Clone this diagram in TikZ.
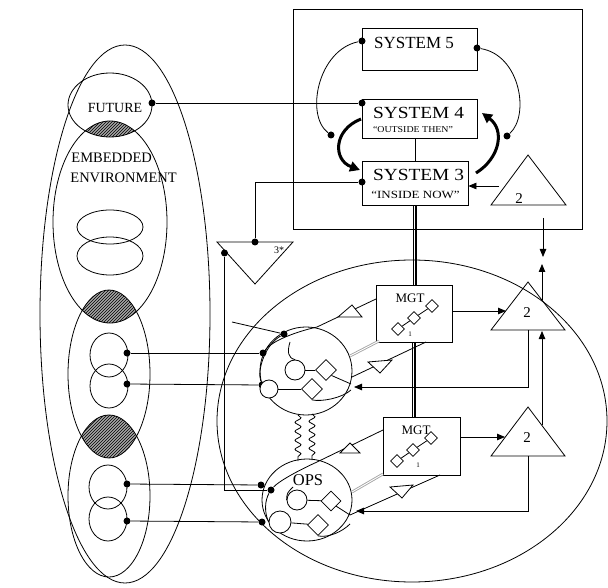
\documentclass[tikz,border=0pt]{standalone}
\usepackage{fontspec}
\setmainfont{Liberation Serif}
\usetikzlibrary{arrows.meta,patterns,decorations.pathmorphing,shapes.geometric}
\begin{document}
\begin{tikzpicture}[x=1pt,y=-1pt, line width=0.8pt,
  dot/.style={circle,fill=black,inner sep=0pt,minimum size=7pt},
  box/.style={draw,rectangle,fill=white,inner sep=0pt},
  diam/.style={draw,diamond,fill=white,inner sep=0pt,minimum size=#1},
  sc/.style={draw,circle,fill=white,inner sep=0pt,minimum size=#1},
  lbl/.style={inner sep=0pt},
  arr/.style={-{Triangle[length=8pt,width=6.5pt]}},
  thickarr/.style={line width=3pt,-{Triangle[length=10pt,width=10pt]}},
  dbl/.style={draw=gray!70, double=white, double distance=0.9pt, line width=0.9pt},
  opentri/.style={draw,fill=white},
  hatch/.style={pattern=north east lines, pattern color=black},
  hatchbg/.style={fill=black!35},
  wavy/.style={decorate, decoration={snake,segment length=9pt,amplitude=3pt}}
]
\useasboundingbox (0,0) rectangle (608,588);

% ---------------- environment (left) ----------------
\draw (125,314) ellipse [x radius=85pt, y radius=269pt];
\begin{scope}
  \clip (110,105) ellipse [x radius=42pt, y radius=32pt];
  \fill[hatchbg] (110,222) ellipse [x radius=57pt, y radius=101pt];
  \fill[hatch] (110,222) ellipse [x radius=57pt, y radius=101pt];
\end{scope}
\begin{scope}
  \clip (110,222) ellipse [x radius=57pt, y radius=101pt];
  \fill[hatchbg] (109,374) ellipse [x radius=41pt, y radius=84pt];
  \fill[hatch] (109,374) ellipse [x radius=41pt, y radius=84pt];
\end{scope}
\begin{scope}
  \clip (109,374) ellipse [x radius=41pt, y radius=84pt];
  \fill[hatchbg] (109,496) ellipse [x radius=41pt, y radius=81pt];
  \fill[hatch] (109,496) ellipse [x radius=41pt, y radius=81pt];
\end{scope}
\draw (110,105) ellipse [x radius=42pt, y radius=32pt];
\draw (110,222) ellipse [x radius=57pt, y radius=101pt];
\draw (109,374) ellipse [x radius=41pt, y radius=84pt];
\draw (109,496) ellipse [x radius=41pt, y radius=81pt];
\draw (110,227) ellipse [x radius=33pt, y radius=17pt];
\draw (110,256) ellipse [x radius=33pt, y radius=19pt];
\draw (109,355) ellipse [x radius=19pt, y radius=22pt];
\draw (109,386) ellipse [x radius=19pt, y radius=22pt];
\draw (108,487) ellipse [x radius=19pt, y radius=22pt];
\draw (108,519) ellipse [x radius=19pt, y radius=22pt];

\node[lbl,font=\fontsize{14}{14}\selectfont] (futt) at (115,108) {FUTURE};
\node[lbl,anchor=west,font=\fontsize{14.5}{14.5}\selectfont] (emb) at (71,158) {EMBEDDED};
\node[lbl,anchor=west,font=\fontsize{14.5}{14.5}\selectfont] (envt) at (70,178) {ENVIRONMENT};

% ---------------- big operations ellipse ----------------
\draw (412,421) ellipse [x radius=195pt, y radius=161pt];

% ---------------- metasystem ----------------
\draw (293,9) rectangle (582,229);
\node[box, minimum width=115pt, minimum height=42pt] (s5) at (419.5,49) {};
\node[box, minimum width=115pt, minimum height=39pt] (s4) at (419.5,118.5) {};
\node[box, minimum width=106pt, minimum height=44pt] (s3) at (415,183) {};
\node[lbl,font=\fontsize{17}{17}\selectfont] (s5t) at (414,43) {SYSTEM 5};
\node[lbl,font=\fontsize{17}{17}\selectfont] (s4t) at (418.5,112.5) {\addfontfeatures{FakeStretch=1.14}SYSTEM 4};
\node[lbl,font=\fontsize{9}{9}\selectfont] (s4s) at (413,130) {\addfontfeatures{FakeStretch=1.1}``OUTSIDE THEN''};
\node[lbl,font=\fontsize{17}{17}\selectfont] (s3t) at (418.5,174.5) {\addfontfeatures{FakeStretch=1.14}SYSTEM 3};
\node[lbl,font=\fontsize{11}{11}\selectfont] (s3s) at (415.5,195) {\addfontfeatures{FakeStretch=1.18}``INSIDE NOW''};
\draw (s3.north |- s4.south) -- (s3.north);

\node[dot] (s5l) at (362,41) {};
\node[dot] (s5r) at (477,48) {};
\node[dot] (cl) at (331,135) {};
\node[dot] (cr) at (507,136) {};
\draw (s5l) .. controls (318,50) and (305,115) .. (cl);
\draw (s5r) .. controls (520,55) and (530,115) .. (cr);
\draw[thickarr] (361,119) .. controls (333,130) and (333,160) .. (360,170);
\draw[thickarr] (476,173) .. controls (500,158) and (505,130) .. (482,113);

% top triangle 2
\draw (528,155) -- (566,205) -- (491,205) -- cycle;
\node[lbl,font=\fontsize{15}{15}\selectfont] (t2t) at (519,199) {2};
\coordinate (t2l) at (499,186);
\draw[arr] (t2l) -- (t2l -| s3.east);

% FUTURE -> S4, S3 -> 3*
\node[dot] (fut) at (152,103) {};
\node[dot] (s4d) at (362,103) {};
\node[dot] (s3d) at (362,182) {};
\draw (fut) -- (s4d);

% 3* triangle
\draw (217,242) -- (293,242) -- (255,284) -- cycle;
\node[lbl,font=\fontsize{10}{10}\selectfont] (t3t) at (279,250) {3*};
\node[dot] (t3a) at (255,242) {};
\node[dot] (t3b) at (224.5,253) {};
\draw (s3d) -| (t3a);

% ---------------- management boxes ----------------
\node[box, minimum width=76pt, minimum height=57pt] (m1) at (414,313.5) {};
\node[box, minimum width=77pt, minimum height=58pt] (m2) at (421.5,446) {};
\foreach \d in {-1.7,0,1.7}{
  \draw[line width=0.6pt] ([xshift=\d pt]s3.south) -- ([xshift=\d pt]s3.south |- m1.north);
  \draw[line width=0.6pt] ([xshift=\d pt]m1.south) -- ([xshift=\d pt]m1.south |- m2.north);
}
\node[lbl,font=\fontsize{13}{13}\selectfont] (m1t) at (410,298) {MGT};
\node[lbl,font=\fontsize{13}{13}\selectfont] (m2t) at (416,430) {MGT};
\node[diam=13pt] (m1a) at (398,329) {};
\node[diam=13pt] (m1b) at (414,318) {};
\node[diam=13pt] (m1c) at (432,306) {};
\draw (m1a) -- (m1b) -- (m1c);
\node[lbl,font=\fontsize{7}{7}\selectfont] (m1n) at (410,334) {1};
\node[diam=13pt] (m2a) at (397,461) {};
\node[diam=13pt] (m2b) at (413,450) {};
\node[diam=13pt] (m2c) at (431,438) {};
\draw (m2a) -- (m2b) -- (m2c);
\node[lbl,font=\fontsize{7}{7}\selectfont] (m2n) at (418,465) {1};

% ---------------- triangles 2 (right) ----------------
\draw (528,282) -- (565,330) -- (491,330) -- cycle;
\node[lbl,font=\fontsize{15}{15}\selectfont] (tu) at (527,313) {2};
\draw (528,407) -- (565,456) -- (491,456) -- cycle;
\node[lbl,font=\fontsize{15}{15}\selectfont] (tl) at (527,438) {2};
\coordinate (m1r) at (452,311);
\coordinate (tul) at (506,311);
\coordinate (m2r) at (460,437);
\coordinate (tll) at (505,437);
\draw[arr] (m1r) -- (tul);
\draw[arr] (m2r) -- (tll);
\coordinate (v0) at (543,218);
\coordinate (v1) at (543,257);
\coordinate (v2) at (542,300);
\coordinate (v3) at (542,264);
\coordinate (v4) at (542,425);
\coordinate (v5) at (542,331);
\draw[arr] (v0) -- (v1);
\draw[arr] (v2) -- (v3);
\draw[arr] (v4) -- (v5);
\coordinate (tub) at (528,330);
\coordinate (tlb) at (528,456);
\draw[arr] (tub) -- (528,387) -- (354,387);
\draw[arr] (tlb) -- (528,511) -- (356,511);

% ---------------- operational circles ----------------
\node[draw, ellipse, minimum width=92pt, minimum height=88pt, inner sep=0pt] (oc1) at (306,371) {};
\node[draw, ellipse, minimum width=90pt, minimum height=82pt, inner sep=0pt] (oc2) at (307,500) {};
\draw[wavy] (298,415) -- (298,461);
\draw[wavy] (312,414) -- (312,460);
\node[lbl,font=\fontsize{16.5}{16.5}\selectfont] (ops) at (308,480) {OPS};

% dots on circles
\node[dot] (o1a) at (284,334) {};
\node[dot] (o1b) at (263,353) {};
\node[dot] (o1c) at (262,385) {};
\node[dot] (o2a) at (261,485) {};
\node[dot] (o2b) at (271,490) {};
\node[dot] (o2c) at (262,522) {};
\node[dot] (g1a) at (127,353) {};
\node[dot] (g1b) at (127,384) {};
\node[dot] (g2a) at (127,484) {};
\node[dot] (g2b) at (127,521) {};
\draw (g1a) -- (o1b);
\draw (g1b) -- (o1c);
\draw (g2a) -- (o2a);
\draw (g2b) -- (o2c);
\draw (t3b) |- (o2b);
\coordinate (tan) at (232,322);
\draw (tan) -- (o1a);

% upper circle internals
\node[sc=20pt] (a1) at (295,370) {};
\node[diam=21pt] (a2) at (326,370) {};
\node[sc=18pt] (a3) at (269,389) {};
\node[diam=21pt] (a4) at (312,389) {};
\draw (a1) -- (a2);
\draw (a3) -- (a4);
\draw (a2.south east) -- (351,384);
\draw (290,342) .. controls (287,352) and (288,358) .. (a1.north);
\draw (a4.south) .. controls (322,402) and (342,398) .. (351,390);
\draw (o1a) .. controls (265,345) and (257,370) .. (o1c);

% lower circle internals
\node[sc=20pt] (b1) at (297,500) {};
\node[diam=20pt] (b2) at (331,501) {};
\node[sc=22pt] (b3) at (280,522) {};
\node[diam=21pt] (b4) at (318,525) {};
\draw (b1) -- (b2);
\draw (b3) -- (b4);
\draw (b2.south east) -- (350,515);
\draw (b4.south) .. controls (328,538) and (342,532) .. (350,524);
\draw (o2b) .. controls (265,500) and (264,512) .. (b3.west);
\draw (293,487) .. controls (287,493) .. (b1.west);

% management -> operations lines with filters
\coordinate (m1l) at (376,299);
\draw (o1b) .. controls (272,341) and (295,332) .. (317,327) -- (m1l);
\draw[opentri] (338,317) -- (352,305) -- (362,317) -- cycle;
\coordinate (m1s) at (426,342);
\draw (m1s) -- (352,377);
\draw[opentri] (368,362) -- (392,360) -- (380,373) -- cycle;
\draw[dbl] (379,341) -- (350,356);

\coordinate (m2l) at (383,430);
\draw (m2l) -- (317,462) .. controls (295,472) and (278,482) .. (o2b);
\draw[opentri] (340,453) -- (350,443) -- (360,453) -- cycle;
\coordinate (m2s) at (440,475);
\draw (m2s) -- (350,515);
\draw[opentri] (390,487) -- (413,485) -- (402,498) -- cycle;
\draw[dbl] (383,474) -- (352,492);

\end{tikzpicture}
\end{document}
